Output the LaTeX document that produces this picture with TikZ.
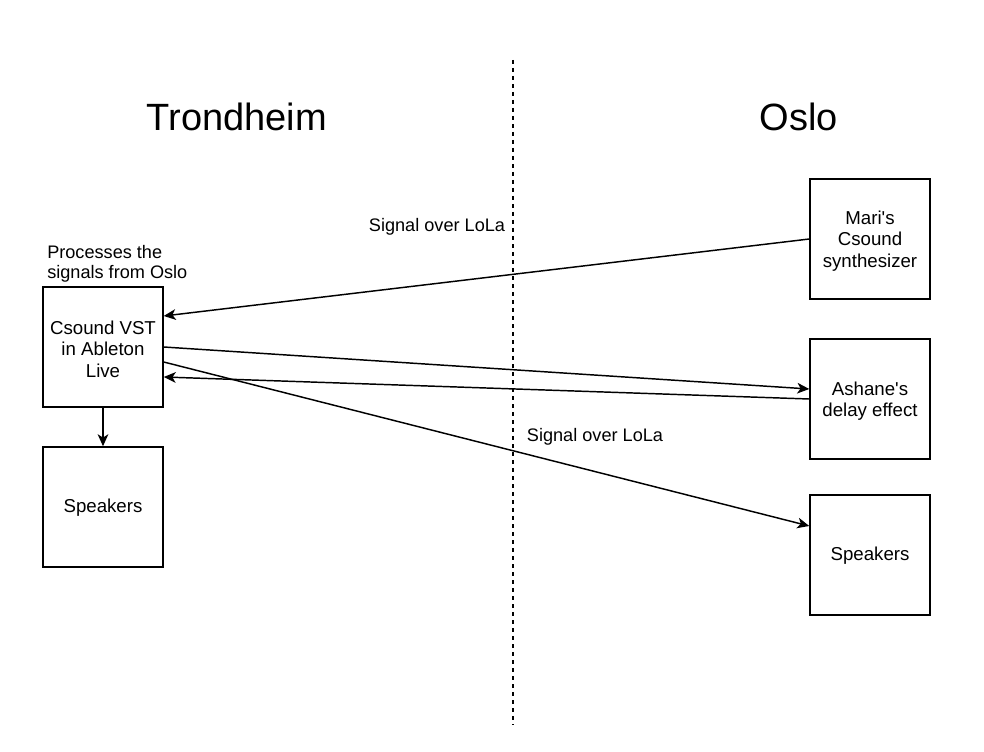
\documentclass[tikz,border=0pt]{standalone}
\usepackage{fontspec}
\setmainfont{Liberation Sans}
\usetikzlibrary{arrows.meta}
\begin{document}
\begin{tikzpicture}[x=0.75pt,y=-0.75pt,
  box/.style={draw, line width=1.1pt, minimum width=90pt, minimum height=90pt, inner sep=0pt},
  boxtext/.style={font=\fontsize{14}{16}\selectfont, align=center, inner sep=0pt},
  lbl/.style={font=\fontsize{13.6}{15}\selectfont, inner sep=0pt},
  title/.style={font=\fontsize{28.5}{32}\selectfont, inner sep=0pt},
  conn/.style={line width=1.1pt, -{Stealth[length=9pt,width=8pt,inset=2.5pt]}}]
\useasboundingbox (0,0) rectangle (984,752);
\coordinate (dtop) at (513,60);
\coordinate (dbot) at (513,725);
\draw[dashed, line width=0.9pt, dash pattern=on 3pt off 3pt] (dtop) -- (dbot);
\node[title] (trd) at (237,117) {Trondheim};
\node[title] (osl) at (799,117) {Oslo};
\node[box] (vst) at (103,347) {};
\node[boxtext] (vstt) at (103,349) {Csound VST\\in Ableton\\Live};
\node[box] (spkl) at (103,507) {};
\node[boxtext] (spklt) at (103,508) {Speakers};
\node[box] (mari) at (870,239) {};
\node[boxtext] (marit) at (870,241) {Mari\textquotesingle s\\Csound\\synthesizer};
\node[box] (ash) at (870,399) {};
\node[boxtext] (asht) at (870,401) {Ashane\textquotesingle s\\delay effect};
\node[box] (spkr) at (870,555) {};
\node[boxtext] (spkrt) at (870,556) {Speakers};
\node[lbl, align=left, anchor=west] (proc) at (47,264) {Processes the\\signals from Oslo};
\node[lbl] (l1) at (437,227) {Signal over LoLa};
\node[lbl] (l2) at (595,437) {Signal over LoLa};
\draw[conn] (mari.west) -- (vst.east |- 0,316);
\draw[conn] (vst.east |- 0,347) -- (ash.west |- 0,389);
\draw[conn] (ash.west |- 0,399) -- (vst.east |- 0,377);
\draw[conn] (vst.east |- 0,362) -- (spkr.west |- 0,526);
\draw[conn] (vst.south) -- (spkl.north);
\end{tikzpicture}
\end{document}
